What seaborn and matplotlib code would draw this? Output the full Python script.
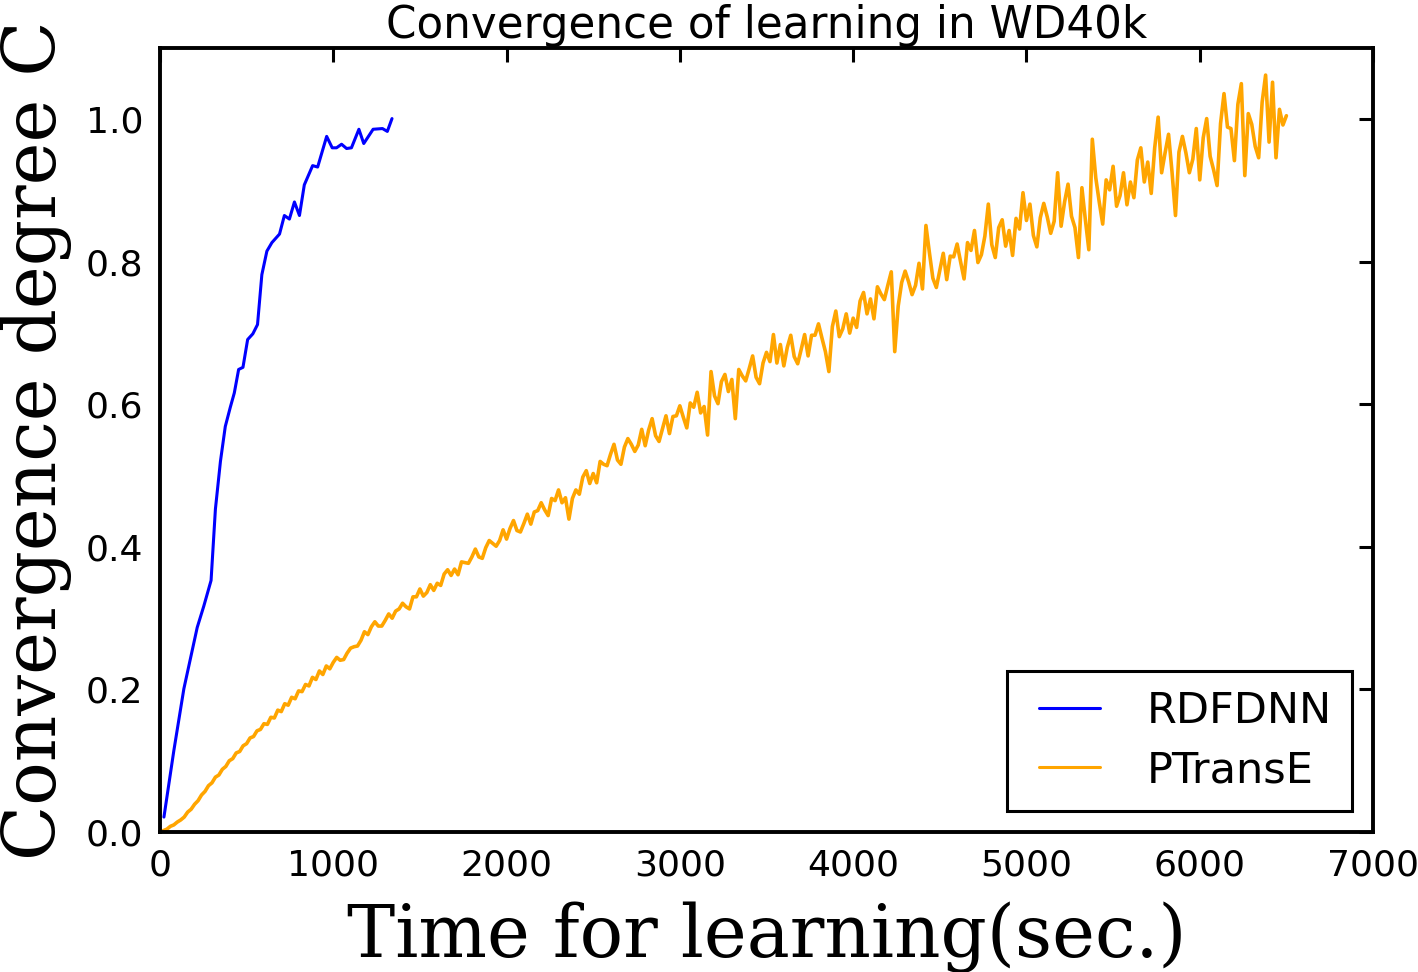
import numpy as np
import pandas as pd
import matplotlib.pyplot as plt
import seaborn as sns

# RDFDNN run (sec., convergence degree)
rdfdnn_time = [23, 80, 138, 215, 253, 295, 320, 349, 377, 406, 429, 454, 479, 506,
               536, 563, 588, 617, 646, 690, 718, 747, 776, 805, 833, 881, 910, 962,
               994, 1019, 1048, 1077, 1105, 1148, 1176, 1230, 1284, 1312, 1339]
rdfdnn_conv = [0.021, 0.114, 0.201, 0.287, 0.317, 0.353, 0.453, 0.520, 0.569, 0.596,
               0.616, 0.649, 0.652, 0.691, 0.699, 0.712, 0.782, 0.815, 0.827, 0.839,
               0.865, 0.860, 0.884, 0.865, 0.908, 0.935, 0.933, 0.976, 0.960, 0.960,
               0.965, 0.959, 0.960, 0.986, 0.966, 0.986, 0.987, 0.983, 1.001]

# PTransE run, sampled every 20 sec.
ptranse_time = np.arange(0, 6501, 20)
ptranse_conv = [
    0.000, 0.002, 0.004, 0.008, 0.010, 0.014, 0.017, 0.021, 0.028, 0.032,
    0.039, 0.044, 0.052, 0.057, 0.065, 0.069, 0.077, 0.080, 0.088, 0.092,
    0.100, 0.103, 0.111, 0.113, 0.121, 0.124, 0.132, 0.134, 0.142, 0.144,
    0.152, 0.151, 0.161, 0.160, 0.171, 0.169, 0.180, 0.178, 0.189, 0.187,
    0.198, 0.197, 0.207, 0.205, 0.217, 0.214, 0.226, 0.221, 0.233, 0.229,
    0.238, 0.245, 0.241, 0.242, 0.251, 0.258, 0.260, 0.261, 0.269, 0.281,
    0.277, 0.288, 0.295, 0.289, 0.289, 0.297, 0.306, 0.300, 0.310, 0.313,
    0.321, 0.316, 0.313, 0.330, 0.330, 0.341, 0.331, 0.336, 0.347, 0.339,
    0.349, 0.346, 0.362, 0.368, 0.360, 0.369, 0.361, 0.379, 0.378, 0.377,
    0.386, 0.397, 0.386, 0.384, 0.399, 0.409, 0.405, 0.401, 0.409, 0.424,
    0.411, 0.426, 0.437, 0.423, 0.421, 0.433, 0.446, 0.432, 0.449, 0.451,
    0.462, 0.452, 0.444, 0.468, 0.465, 0.480, 0.462, 0.469, 0.439, 0.468,
    0.480, 0.474, 0.498, 0.507, 0.489, 0.503, 0.490, 0.520, 0.516, 0.514,
    0.530, 0.544, 0.522, 0.516, 0.540, 0.552, 0.544, 0.534, 0.543, 0.565,
    0.542, 0.564, 0.580, 0.556, 0.548, 0.566, 0.584, 0.559, 0.583, 0.584,
    0.598, 0.582, 0.567, 0.602, 0.596, 0.617, 0.588, 0.597, 0.557, 0.646,
    0.612, 0.601, 0.632, 0.642, 0.618, 0.635, 0.580, 0.649, 0.640, 0.633,
    0.650, 0.668, 0.638, 0.629, 0.658, 0.673, 0.660, 0.698, 0.658, 0.684,
    0.654, 0.680, 0.697, 0.667, 0.657, 0.677, 0.698, 0.668, 0.697, 0.697,
    0.713, 0.693, 0.674, 0.646, 0.709, 0.731, 0.695, 0.706, 0.727, 0.700,
    0.721, 0.708, 0.745, 0.757, 0.727, 0.748, 0.720, 0.765, 0.755, 0.747,
    0.767, 0.786, 0.674, 0.738, 0.771, 0.787, 0.772, 0.754, 0.767, 0.798,
    0.762, 0.851, 0.813, 0.777, 0.764, 0.788, 0.812, 0.775, 0.808, 0.807,
    0.825, 0.800, 0.776, 0.827, 0.816, 0.844, 0.799, 0.810, 0.836, 0.881,
    0.824, 0.806, 0.848, 0.859, 0.822, 0.844, 0.809, 0.861, 0.846, 0.897,
    0.858, 0.881, 0.837, 0.821, 0.862, 0.882, 0.863, 0.840, 0.857, 0.925,
    0.850, 0.884, 0.909, 0.864, 0.848, 0.806, 0.904, 0.859, 0.817, 0.972,
    0.918, 0.884, 0.853, 0.915, 0.901, 0.934, 0.878, 0.893, 0.925, 0.880,
    0.912, 0.890, 0.943, 0.960, 0.912, 0.940, 0.896, 0.960, 1.003, 0.925,
    0.953, 0.979, 0.926, 0.865, 0.954, 0.976, 0.953, 0.925, 0.944, 0.987,
    0.915, 0.974, 1.001, 0.948, 0.929, 0.907, 0.994, 1.036, 0.989, 0.987,
    0.942, 1.021, 1.050, 0.921, 1.008, 0.993, 0.962, 0.946, 1.024, 1.062,
    0.968, 1.052, 0.946, 1.014, 0.992, 1.005]

df = pd.concat([
    pd.DataFrame({'time': rdfdnn_time, 'conv': rdfdnn_conv, 'method': 'RDFDNN'}),
    pd.DataFrame({'time': ptranse_time, 'conv': ptranse_conv, 'method': 'PTransE'}),
])

sns.set_style('white')
plt.rcParams['font.family'] = ['DejaVu Sans']
plt.rcParams.update({'text.color': 'black', 'axes.labelcolor': 'black',
                     'xtick.color': 'black', 'ytick.color': 'black'})

fig = plt.figure(figsize=(7.09, 4.86), dpi=200)
ax = fig.add_axes([0.1128, 0.144, 0.8555, 0.8066])

sns.lineplot(ax=ax, data=df, x='time', y='conv', hue='method',
             palette={'RDFDNN': 'blue', 'PTransE': 'orange'},
             estimator=None, sort=False, lw=1.1)
# the noisy series looks a bit heavier in the original
ax.get_lines()[1].set_linewidth(1.3)

ax.set_xlim(0, 7000)
ax.set_ylim(0, 1.1)
ax.set_xticks(range(0, 7001, 1000))
ax.set_yticks([0.0, 0.2, 0.4, 0.6, 0.8, 1.0])
ax.tick_params(direction='in', length=5, width=1.1, top=True, right=True,
               labelsize=13, pad=6)
for s in ax.spines.values():
    s.set_linewidth(1.4)
    s.set_color('black')

ax.set_title('Convergence of learning in WD40k', fontsize=15.7, pad=3.5)
ax.set_xlabel('Time for learning(sec.)', family='DejaVu Serif', fontsize=26)
ax.set_ylabel('Convergence degree C', family='DejaVu Serif', fontsize=26)
ax.xaxis.set_label_coords(0.5, -0.088)
ax.yaxis.set_label_coords(-0.0725, 0.5)

leg = ax.legend(loc='lower right', fontsize=15.5, frameon=True, fancybox=False,
                numpoints=2, handlelength=2.0, handletextpad=0.8, borderpad=0.45,
                labelspacing=0.4, borderaxespad=0.5)
leg.get_frame().set_edgecolor('black')
leg.get_frame().set_linewidth(1.1)
leg.get_frame().set_alpha(1)

fig.savefig('out.png', dpi=200)
